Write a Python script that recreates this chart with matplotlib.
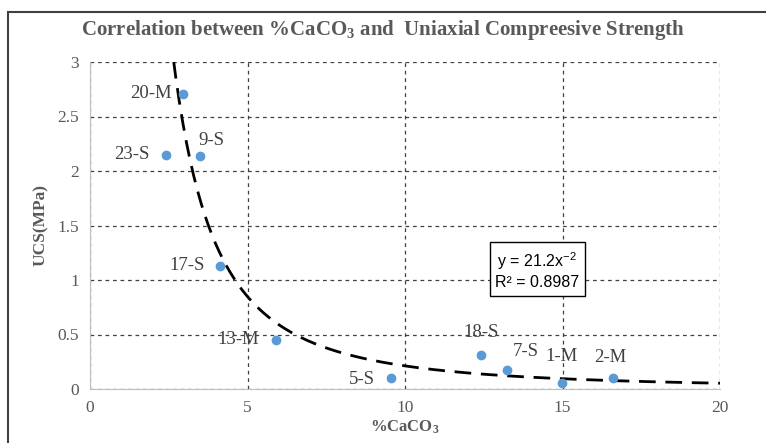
import numpy as np
import matplotlib.pyplot as plt
from matplotlib.patches import Rectangle

# data
labels = ['20-M', '23-S', '9-S', '17-S', '13-M', '5-S', '18-S', '7-S', '1-M', '2-M']
caco3 = [2.95, 2.41, 3.49, 4.13, 5.9, 9.56, 12.41, 13.24, 14.98, 16.6]
ucs = [2.71, 2.15, 2.14, 1.13, 0.45, 0.10, 0.31, 0.17, 0.055, 0.10]
fit_a = 21.2
fit_b = -2
r2 = 0.8987

# label offsets in points (dx, dy, ha)
offsets = {
    '20-M': (-8, 0, 'right'), '23-S': (-12, 0, 'right'), '9-S': (-1, 11, 'left'),
    '17-S': (-11, 0, 'right'), '13-M': (-12, 0, 'right'), '5-S': (-12, -1, 'right'),
    '18-S': (0, 16, 'center'), '7-S': (4, 14, 'left'), '1-M': (0, 19, 'center'),
    '2-M': (-2, 15, 'center'),
}

plt.rcParams['mathtext.default'] = 'regular'
serif = ['Liberation Serif', 'DejaVu Serif']
grey = '#595959'

fig = plt.figure(figsize=(7.66, 4.43), dpi=100)
fig.patches.append(Rectangle((8 / 766, -0.1), 1.2, 1 - 12 / 443 + 0.1,
                             transform=fig.transFigure, fill=False,
                             edgecolor='#404040', linewidth=1.5))
ax = fig.add_axes([90 / 766, 1 - 389 / 443, 630 / 766, 327 / 443])

xs = np.linspace((fit_a / 3.0) ** 0.5, 20, 300)
ax.plot(xs, fit_a * xs ** fit_b, color='black', linestyle=(0, (6, 3.5)), linewidth=2, zorder=3)
ax.scatter(caco3, ucs, s=36, color='#5B9BD5', zorder=4)

for lab, x, y in zip(labels, caco3, ucs):
    dx, dy, ha = offsets[lab]
    ax.annotate(lab, (x, y), xytext=(dx, dy), textcoords='offset points',
                ha=ha, va='center', fontsize=13.5, family=serif, color='#404040', zorder=2)

ax.set_xlim(0, 20)
ax.set_ylim(0, 3)
ax.set_xticks([0, 5, 10, 15, 20])
ax.set_yticks([0, 0.5, 1, 1.5, 2, 2.5, 3])
ax.set_yticklabels(['0', '0.5', '1', '1.5', '2', '2.5', '3'])
ax.grid(True, color='#404040', linestyle=(0, (3, 3)), linewidth=0.9)
ax.set_axisbelow(True)
for s in ['top', 'right']:
    ax.spines[s].set_visible(False)
for s in ['left', 'bottom']:
    ax.spines[s].set_color('#bfbfbf')
ax.tick_params(length=0, pad=8, labelsize=12.5, labelcolor=grey)
for t in ax.get_xticklabels() + ax.get_yticklabels():
    t.set_family(serif)

ax.set_xlabel('%CaCO$_3$', fontsize=12, fontweight='bold', family=serif, color=grey, labelpad=2)
ax.set_ylabel('UCS(MPa)', fontsize=12.5, fontweight='bold', family=serif, color=grey, labelpad=6)
fig.text(383 / 766, 1 - 30 / 443, 'Correlation between %CaCO$_3$ and  Uniaxial Compreesive Strength',
         ha='center', va='center', fontsize=15, fontweight='bold', family=serif, color=grey)

ax.text(14.2, 1.09, 'y = %.1fx$^{-%d}$\nR² = %.4f' % (fit_a, -fit_b, r2), ha='center', va='center',
        fontsize=11.5, family=['Liberation Sans', 'DejaVu Sans'], color='black', zorder=5,
        linespacing=1.3,
        bbox=dict(boxstyle='square,pad=0.35', facecolor='white', edgecolor='black', linewidth=1))

plt.savefig('out.png', dpi=100)
